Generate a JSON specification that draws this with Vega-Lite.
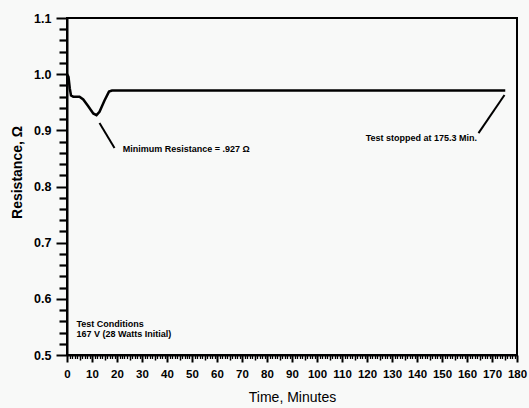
{
  "$schema": "https://vega.github.io/schema/vega-lite/v6.json",
  "width": 450,
  "height": 337,
  "autosize": "none",
  "padding": {"left": 67, "top": 18, "right": 12, "bottom": 53},
  "background": "#f8f9f8",
  "config": {
    "view": {"stroke": "#000", "strokeWidth": 2},
    "axis": {
      "domainColor": "#000", "domainWidth": 2, "tickColor": "#000", "tickWidth": 2,
      "labelColor": "#000", "titleColor": "#000", "grid": false,
      "labelFont": "Liberation Sans", "titleFont": "Liberation Sans",
      "labelFontWeight": "bold", "titleFontWeight": "bold"
    }
  },
  "datasets": {
    "curve": [
      {"t": 0, "r": 1.0},
      {"t": 0.6, "r": 0.995},
      {"t": 1.1, "r": 0.975},
      {"t": 1.6, "r": 0.962},
      {"t": 2.5, "r": 0.96},
      {"t": 5, "r": 0.96},
      {"t": 6.5, "r": 0.955},
      {"t": 8.5, "r": 0.943},
      {"t": 10.5, "r": 0.93},
      {"t": 11.8, "r": 0.927},
      {"t": 13, "r": 0.933},
      {"t": 15, "r": 0.953},
      {"t": 16.8, "r": 0.969},
      {"t": 18, "r": 0.971},
      {"t": 175.3, "r": 0.971}
    ],
    "pointers": [
      {"id": "min", "t": 13, "r": 0.913},
      {"id": "min", "t": 19, "r": 0.8685},
      {"id": "stop", "t": 164.6, "r": 0.895},
      {"id": "stop", "t": 175, "r": 0.963}
    ],
    "notesLeft": [
      {"t": 22.3, "r": 0.867, "label": "Minimum Resistance = .927 Ω"},
      {"t": 3.8, "r": 0.555, "label": "Test Conditions"},
      {"t": 3.8, "r": 0.537, "label": "167 V (28 Watts Initial)"}
    ],
    "notesRight": [
      {"t": 164, "r": 0.886, "label": "Test stopped at 175.3 Min."}
    ]
  },
  "resolve": {"axis": {"x": "independent", "y": "independent"}},
  "layer": [
    {
      "data": {"name": "curve"},
      "mark": {"type": "line", "color": "#000", "strokeWidth": 2.5, "clip": true},
      "encoding": {
        "x": {
          "field": "t", "type": "quantitative",
          "scale": {"domain": [0, 180], "nice": false, "zero": false},
          "axis": {
            "orient": "bottom",
            "values": [0,10,20,30,40,50,60,70,80,90,100,110,120,130,140,150,160,170,180],
            "tickSize": 7, "labelFontSize": 11.5, "labelPadding": 6, "labelFlush": false,
            "title": "Time, Minutes", "titleFontSize": 14, "titleFontWeight": "normal",
            "titleBaseline": "middle", "titleY": 42
          }
        },
        "y": {
          "field": "r", "type": "quantitative",
          "scale": {"domain": [0.5, 1.1], "nice": false, "zero": false},
          "axis": {
            "orient": "left",
            "values": [0.5, 0.6, 0.7, 0.8, 0.9, 1.0, 1.1], "format": ".1f",
            "tickSize": 11, "labelFontSize": 12.5, "labelPadding": 5, "labelFlush": false,
            "title": "Resistance, Ω", "titleFontSize": 14,
            "titleAngle": 270, "titleAlign": "center", "titleBaseline": "middle",
            "titleX": -50, "titleY": 154
          }
        }
      }
    },
    {
      "data": {"name": "pointers"},
      "mark": {"type": "line", "color": "#000", "strokeWidth": 2},
      "encoding": {
        "detail": {"field": "id"},
        "x": {"field": "t", "type": "quantitative",
          "axis": {"orient": "bottom", "values": [1,2,3,4,6,7,8,9,11,12,13,14,16,17,18,19,21,22,23,24,26,27,28,29,31,32,33,34,36,37,38,39,41,42,43,44,46,47,48,49,51,52,53,54,56,57,58,59,61,62,63,64,66,67,68,69,71,72,73,74,76,77,78,79,81,82,83,84,86,87,88,89,91,92,93,94,96,97,98,99,101,102,103,104,106,107,108,109,111,112,113,114,116,117,118,119,121,122,123,124,126,127,128,129,131,132,133,134,136,137,138,139,141,142,143,144,146,147,148,149,151,152,153,154,156,157,158,159,161,162,163,164,166,167,168,169,171,172,173,174,176,177,178,179],
            "tickSize": 3.5, "labels": false, "domain": false, "title": null, "tickWidth": 1.3}},
        "y": {"field": "r", "type": "quantitative", "axis": null}
      }
    },
    {
      "data": {"name": "notesLeft"},
      "mark": {"type": "text", "font": "Liberation Sans", "fontWeight": "bold", "fontSize": 9, "color": "#000", "baseline": "middle", "align": "left"},
      "encoding": {
        "x": {"field": "t", "type": "quantitative",
          "axis": {"orient": "bottom", "values": [5,15,25,35,45,55,65,75,85,95,105,115,125,135,145,155,165,175],
            "tickSize": 5, "labels": false, "domain": false, "title": null, "tickWidth": 1.5}},
        "y": {"field": "r", "type": "quantitative", "axis": null},
        "text": {"field": "label"}
      }
    },
    {
      "data": {"name": "notesRight"},
      "mark": {"type": "text", "font": "Liberation Sans", "fontWeight": "bold", "fontSize": 9, "color": "#000", "baseline": "middle", "align": "right"},
      "encoding": {
        "x": {"field": "t", "type": "quantitative", "axis": null},
        "y": {"field": "r", "type": "quantitative",
          "axis": {"orient": "left", "values": [0.52,0.54,0.56,0.58,0.62,0.64,0.66,0.68,0.72,0.74,0.76,0.78,0.82,0.84,0.86,0.88,0.92,0.94,0.96,0.98,1.02,1.04,1.06,1.08],
            "tickSize": 8, "labels": false, "domain": false, "title": null, "tickWidth": 2.2}},
        "text": {"field": "label"}
      }
    }
  ]
}
